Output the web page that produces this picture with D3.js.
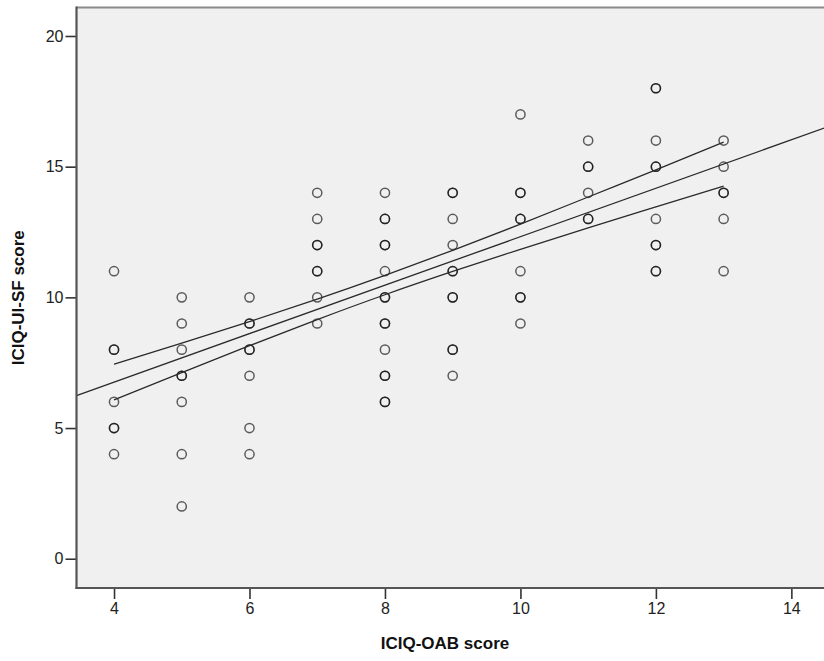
<!DOCTYPE html>
<html>
<head>
<meta charset="utf-8">
<script src="https://cdn.jsdelivr.net/npm/d3@7"></script>
<style>
  html, body { margin: 0; padding: 0; background: #fff; }
  svg { display: block; font-family: "Liberation Sans", Arial, sans-serif; }
</style>
</head>
<body>
<svg id="chart" width="824" height="661"></svg>
<script>
// ICIQ-OAB score (x) against ICIQ-UI-SF score (y); repeated pairs are listed once per patient
const oabScore = [
  4, 4, 4, 4, 4, 4, 4,
  5, 5, 5, 5, 5, 5, 5, 5,
  6, 6, 6, 6, 6, 6, 6, 6,
  7, 7, 7, 7, 7, 7, 7, 7,
  8, 8, 8, 8, 8, 8, 8, 8, 8, 8, 8, 8, 8, 8, 8,
  9, 9, 9, 9, 9, 9, 9, 9, 9, 9, 9,
  10, 10, 10, 10, 10, 10, 10, 10, 10,
  11, 11, 11, 11, 11, 11,
  12, 12, 12, 12, 12, 12, 12, 12, 12, 12,
  13, 13, 13, 13, 13, 13
];
const uisfScore = [
  11, 8, 8, 6, 5, 5, 4,
  10, 9, 8, 7, 7, 6, 4, 2,
  10, 9, 9, 8, 8, 7, 5, 4,
  14, 13, 12, 12, 11, 11, 10, 9,
  14, 13, 13, 12, 12, 11, 10, 10, 9, 9, 8, 7, 7, 6, 6,
  14, 14, 13, 12, 11, 11, 10, 10, 8, 8, 7,
  17, 14, 14, 13, 13, 11, 10, 10, 9,
  16, 15, 15, 14, 13, 13,
  18, 18, 16, 15, 15, 13, 12, 12, 11, 11,
  16, 15, 14, 14, 13, 11
];

// Linear fit and its 95% confidence band for the mean
const fitIntercept = 3.05;
const fitSlope = 0.927;
const bandX     = [4, 5, 6, 7, 8, 9, 10, 11, 12, 13];
const bandUpper = [7.44, 8.25, 9.07, 9.93, 10.84, 11.80, 12.80, 13.84, 14.88, 15.94];
const bandLower = [6.08, 7.12, 8.15, 9.15, 10.10, 10.99, 11.84, 12.66, 13.46, 14.26];

const xTicks = [4, 6, 8, 10, 12, 14];
const yTicks = [0, 5, 10, 15, 20];
const xTitle = "ICIQ-OAB score";
const yTitle = "ICIQ-UI-SF score";

const svg = d3.select("#chart");
const plot = { left: 76.5, top: 7.5, right: 832, bottom: 588 };

const x = d3.scaleLinear().domain([3.446, 14.6]).range([plot.left, plot.right]);
const y = d3.scaleLinear().domain([-1.12, 21.09]).range([plot.bottom, plot.top]);

// plot background
svg.append("rect")
  .attr("x", plot.left).attr("y", plot.top)
  .attr("width", plot.right - plot.left).attr("height", plot.bottom - plot.top)
  .attr("fill", "#f0f0f0");

svg.append("defs").append("clipPath").attr("id", "clip")
  .append("rect")
  .attr("x", plot.left).attr("y", plot.top)
  .attr("width", plot.right - plot.left).attr("height", plot.bottom - plot.top);

const g = svg.append("g").attr("clip-path", "url(#clip)");

// points
g.append("g").selectAll("circle")
  .data(oabScore.map((v, i) => [v, uisfScore[i]]))
  .join("circle")
  .attr("cx", d => x(d[0]))
  .attr("cy", d => y(d[1]))
  .attr("r", 4.6)
  .attr("fill", "none")
  .attr("stroke", "#000")
  .attr("stroke-opacity", 0.62)
  .attr("stroke-width", 1.5);

// fit line across the full x range
const [x0, x1] = x.domain();
g.append("line")
  .attr("x1", x(x0)).attr("y1", y(fitIntercept + fitSlope * x0))
  .attr("x2", x(x1)).attr("y2", y(fitIntercept + fitSlope * x1))
  .attr("stroke", "#2a2a2a").attr("stroke-width", 1.3);

// confidence band edges
const bandLine = d3.line().curve(d3.curveNatural).x(d => x(d[0])).y(d => y(d[1]));
[bandUpper, bandLower].forEach(vals => {
  g.append("path")
    .datum(bandX.map((v, i) => [v, vals[i]]))
    .attr("d", bandLine)
    .attr("fill", "none")
    .attr("stroke", "#2a2a2a").attr("stroke-width", 1.3);
});

// frame: top border
svg.append("line")
  .attr("x1", plot.left).attr("x2", 824)
  .attr("y1", plot.top).attr("y2", plot.top)
  .attr("stroke", "#8a8a8a").attr("stroke-width", 2);

// axes
const xAxis = d3.axisBottom(x).tickValues(xTicks).tickSize(11).tickPadding(4).tickFormat(d3.format("d"));
const yAxis = d3.axisLeft(y).tickValues(yTicks).tickSize(11).tickPadding(2).tickFormat(d3.format("d"));

const gx = svg.append("g").attr("transform", `translate(0,${plot.bottom})`).call(xAxis);
const gy = svg.append("g").attr("transform", `translate(${plot.left},0)`).call(yAxis);

[gx, gy].forEach(ax => {
  ax.select(".domain").remove();
  ax.selectAll(".tick line").attr("stroke", "#333").attr("stroke-width", 1.6);
  ax.selectAll(".tick text").attr("fill", "#222").style("font-size", "16px");
});

svg.append("line")
  .attr("x1", plot.left).attr("x2", plot.left)
  .attr("y1", plot.top - 1).attr("y2", plot.bottom + 1)
  .attr("stroke", "#555").attr("stroke-width", 2.2);
svg.append("line")
  .attr("x1", plot.left - 1).attr("x2", 824)
  .attr("y1", plot.bottom).attr("y2", plot.bottom)
  .attr("stroke", "#555").attr("stroke-width", 2.2);

// axis titles
svg.append("text")
  .attr("x", 445).attr("y", 649)
  .attr("text-anchor", "middle")
  .style("font-weight", "bold").style("font-size", "17px")
  .attr("fill", "#111")
  .text(xTitle);

svg.append("text")
  .attr("transform", `translate(24,${(plot.top + plot.bottom) / 2}) rotate(-90)`)
  .attr("text-anchor", "middle")
  .style("font-weight", "bold").style("font-size", "17px")
  .attr("fill", "#111")
  .text(yTitle);
</script>
</body>
</html>
